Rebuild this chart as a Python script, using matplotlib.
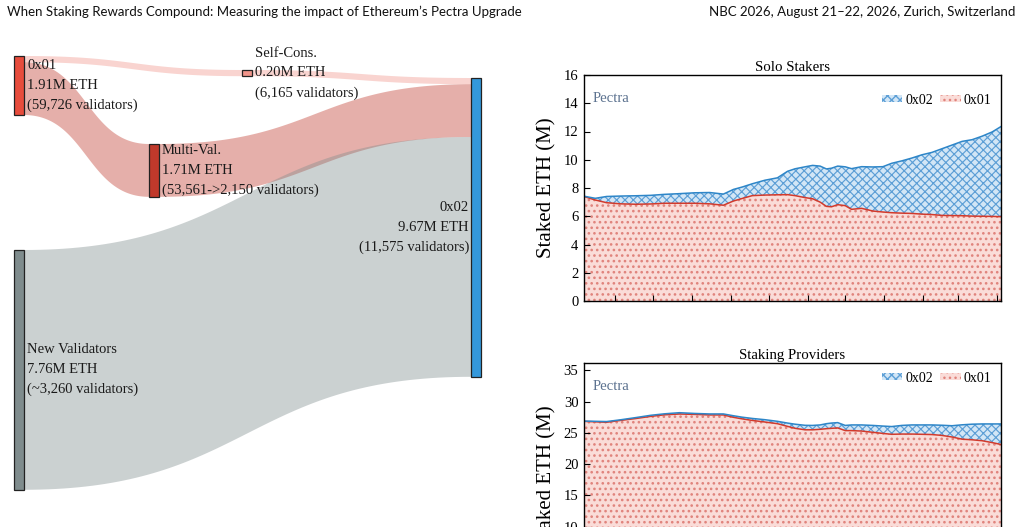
import numpy as np
import matplotlib.pyplot as plt
import matplotlib.dates as mdates
from matplotlib.patches import Rectangle, Polygon, Patch

plt.rcParams['font.family'] = ['Liberation Serif', 'DejaVu Serif']

# sankey data
node_names = ['0x01', 'Self-Cons.', 'Multi-Val.', 'New Validators', '0x02']
node_eth = [1.91, 0.20, 1.71, 7.76, 9.67]
node_validators = ['59,726', '6,165', '53,561->2,150', '~3,260', '11,575']
node_colors = ['#e74c3c', '#f1948a', '#c0392b', '#7f8c8d', '#3498db']
# (source, target, M ETH)
links = [(0, 1, 0.20), (0, 2, 1.71), (1, 4, 0.20), (2, 4, 1.71), (3, 4, 7.76)]
link_colors = ['#f1948a', '#c0392b', '#f1948a', '#c0392b', '#7f8c8d']

# days since 2025-05-07
days = [0, 9, 18, 29, 41, 53, 64, 76, 88, 100, 111, 119, 126, 134, 144, 154,
        162, 168, 176, 182, 188, 193, 197, 202, 208, 213, 221, 230, 238, 245,
        253, 261, 269, 277, 285, 293, 301, 309, 317, 325, 332]

solo_0x01 = [7.40, 7.15, 6.96, 6.88, 6.85, 6.87, 6.92, 6.92, 6.92, 6.88, 6.78,
             7.08, 7.26, 7.46, 7.50, 7.52, 7.53, 7.46, 7.32, 7.24, 7.00, 6.70,
             6.67, 6.82, 6.75, 6.49, 6.56, 6.37, 6.30, 6.25, 6.22, 6.20, 6.15,
             6.12, 6.06, 6.05, 6.04, 6.01, 6.00, 5.99, 5.97]
solo_0x02 = [0.02, 0.12, 0.44, 0.55, 0.60, 0.61, 0.63, 0.68, 0.74, 0.80, 0.79,
             0.82, 0.81, 0.84, 1.05, 1.20, 1.65, 1.90, 2.18, 2.36, 2.55, 2.65,
             2.73, 2.73, 2.75, 2.88, 2.95, 3.12, 3.21, 3.50, 3.70, 3.92, 4.20,
             4.40, 4.72, 4.99, 5.26, 5.41, 5.67, 5.98, 6.38]

prov_0x01 = [26.85, 26.78, 26.71, 27.00, 27.30, 27.65, 27.90, 28.03, 27.97,
             27.88, 27.88, 27.50, 27.25, 27.00, 26.75, 26.48, 26.05, 25.74,
             25.50, 25.50, 25.58, 25.68, 25.74, 25.80, 25.37, 25.37, 25.30,
             25.10, 24.92, 24.78, 24.82, 24.82, 24.78, 24.74, 24.60, 24.35,
             24.00, 23.90, 23.75, 23.45, 23.15]
prov_0x02 = [0.05, 0.08, 0.11, 0.10, 0.15, 0.17, 0.16, 0.21, 0.15, 0.16, 0.16,
             0.25, 0.27, 0.32, 0.37, 0.38, 0.53, 0.66, 0.72, 0.70, 0.70, 0.80,
             0.84, 0.85, 0.83, 0.91, 0.98, 1.10, 1.18, 1.24, 1.38, 1.46, 1.50,
             1.54, 1.63, 1.80, 2.30, 2.50, 2.69, 2.99, 3.29]

start = np.datetime64('2025-05-07')
dates = start + np.array(days).astype('timedelta64[D]')

fig = plt.figure(figsize=(10.22, 5.27), dpi=100)

# --- sankey, drawn in pixel coords ---
ax0 = fig.add_axes([0, 0, 1, 1])
ax0.set_xlim(0, 1022)
ax0.set_ylim(527, 0)
ax0.axis('off')

node_x = [14, 242, 149, 14, 471]
node_top = [56, 70, 144, 250, 78]
node_w = 10
scale = 30.9  # px per M ETH


def band(x0, x1, y0a, y0b, y1a, y1b, n=80):
    t = np.linspace(0, 1, n)
    xm = (x0 + x1) / 2
    bx = (1 - t)**3 * x0 + 3 * (1 - t)**2 * t * xm + 3 * (1 - t) * t**2 * xm + t**3 * x1

    def by(ya, yb):
        return ((1 - t)**3 + 3 * (1 - t)**2 * t) * ya + (3 * (1 - t) * t**2 + t**3) * yb
    top = by(y0a, y1a)
    bot = by(y0b, y1b)
    return np.column_stack([np.r_[bx, bx[::-1]], np.r_[top, bot[::-1]]])


out_off = [0.0] * len(node_names)
in_off = [0.0] * len(node_names)
for (s, t, v), c in zip(links, link_colors):
    h = v * scale
    ys = node_top[s] + out_off[s]
    yt = node_top[t] + in_off[t]
    out_off[s] += h
    in_off[t] += h
    pts = band(node_x[s] + node_w, node_x[t], ys, ys + h, yt, yt + h)
    ax0.add_patch(Polygon(pts, closed=True, facecolor=c, alpha=0.4, lw=0))

for i, name in enumerate(node_names):
    h = node_eth[i] * scale
    ax0.add_patch(Rectangle((node_x[i], node_top[i]), node_w, h,
                            facecolor=node_colors[i], edgecolor='#222222', lw=0.9))
    label = f"{name}\n{node_eth[i]:.2f}M ETH\n({node_validators[i]} validators)"
    yc = node_top[i] + h / 2
    if i == 4:
        ax0.text(node_x[i] - 2, yc, label, ha='right', va='center',
                 fontsize=10.5, color='#1a1a1a', linespacing=1.66, multialignment='right')
    else:
        ax0.text(node_x[i] + node_w + 3, yc, label, ha='left', va='center',
                 fontsize=10.5, color='#1a1a1a', linespacing=1.66)

# page header
ax0.text(7, 12, "When Staking Rewards Compound: Measuring the impact of Ethereum\u2019s Pectra Upgrade",
         ha='left', va='center', fontsize=9.5, family=['Lato', 'DejaVu Sans'], color='#111111')
ax0.text(1015, 12, "NBC 2026, August 21\u201322, 2026, Zurich, Switzerland",
         ha='right', va='center', fontsize=9.5, family=['Lato', 'DejaVu Sans'], color='#111111')

# --- stacked area panels ---
red_face, red_hatch, red_line = '#fadcd8', '#e0837c', '#d23a2c'
blue_face, blue_hatch, blue_line = '#d2e6f6', '#5d9fd6', '#2e86c8'


def panel(rect, v01, v02, title, ymax, yticks, legend_y):
    ax = fig.add_axes(rect)
    v01 = np.array(v01)
    total = v01 + np.array(v02)
    with plt.rc_context({'hatch.linewidth': 1.1}):
        ax.fill_between(dates, 0, v01, facecolor=red_face, edgecolor=red_hatch,
                        hatch='...', linewidth=0)
    with plt.rc_context({'hatch.linewidth': 0.85}):
        ax.fill_between(dates, v01, total, facecolor=blue_face, edgecolor=blue_hatch,
                        hatch='xxxx', linewidth=0)
    ax.plot(dates, v01, color=red_line, lw=1.1)
    ax.plot(dates, total, color=blue_line, lw=1.1)
    ax.set_xlim(dates[0], dates[-1])
    ax.set_ylim(0, ymax)
    ax.set_yticks(yticks)
    ax.xaxis.set_major_locator(mdates.MonthLocator())
    ax.tick_params(axis='both', direction='in', length=4, width=0.8,
                   labelsize=10.5, pad=4, labelbottom=False)
    for sp in ax.spines.values():
        sp.set_linewidth(1.0)
    ax.set_title(title, fontsize=10.7, pad=3)
    ax.set_ylabel('Staked ETH (M)', fontsize=15, labelpad=5)
    ax.text(0.02, 0.898, 'Pectra', transform=ax.transAxes, fontsize=10.6,
            color='#5d7390', va='center')
    with plt.rc_context({'hatch.linewidth': 0.85}):
        handles = [Patch(facecolor=blue_face, edgecolor=blue_hatch, hatch='xxxx', lw=0),
                   Patch(facecolor=red_face, edgecolor=red_hatch, hatch='...', lw=0)]
    ax.legend(handles, ['0x02', '0x01'], ncol=2, loc='center right',
              bbox_to_anchor=(1.0, legend_y), frameon=False, fontsize=10,
              handlelength=1.5, handleheight=0.45, handletextpad=0.2,
              columnspacing=0.5, borderaxespad=0.3)
    return ax


panel([584 / 1022, (527 - 301) / 527, 417 / 1022, 226 / 527],
      solo_0x01, solo_0x02, 'Solo Stakers', 16, np.arange(0, 17, 2), 1 - 25 / 226)
panel([584 / 1022, (527 - 589) / 527, 417 / 1022, 226 / 527],
      prov_0x01, prov_0x02, 'Staking Providers', 36.2, np.arange(0, 36, 5), 1 - 15 / 226)

fig.savefig('out.png', dpi=100)
